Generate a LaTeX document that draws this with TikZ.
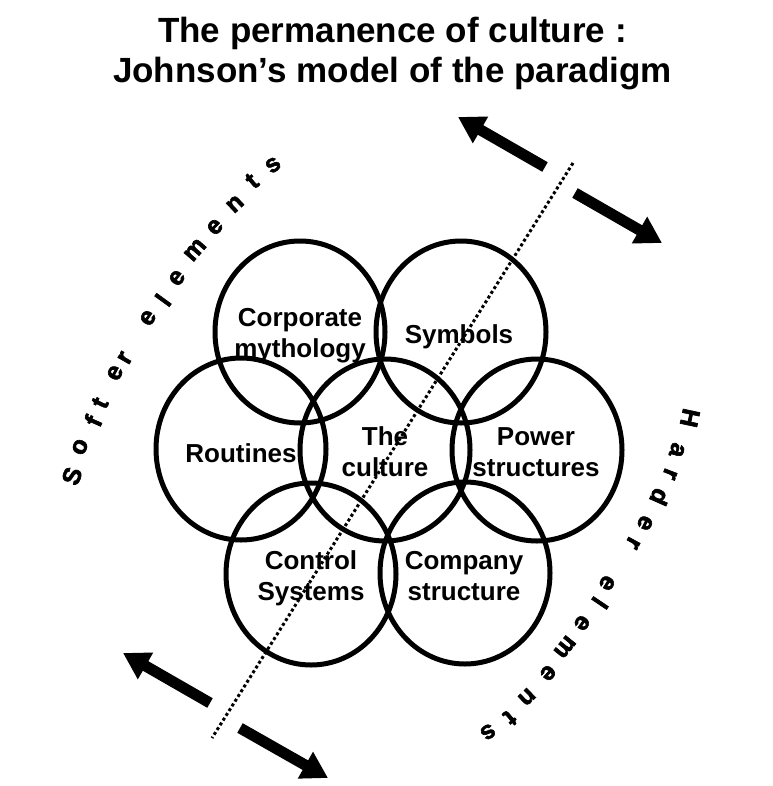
\documentclass[tikz,border=0pt]{standalone}
\usepackage{fontspec}
\setmainfont{Liberation Sans}
\newfontfamily\heavyfont[FakeBold=2.5]{Liberation Sans}
\usetikzlibrary{arrows.meta,shapes.geometric}
\begin{document}
\begin{tikzpicture}[x=1bp,y=-1bp,
  ring/.style={draw, ellipse, line width=5bp, minimum width=170bp, minimum height=182bp, inner sep=0pt},
  lbl/.style={font=\bfseries\fontsize{26bp}{30.5bp}\selectfont, align=center, anchor=base, inner sep=0pt},
  bigarrow/.style={line width=11bp, -{Triangle[length=26bp,width=29bp]}},
  divider/.style={line width=3bp, dash pattern=on 3bp off 2.6bp},
  titlefont/.style={font=\bfseries\fontsize{35bp}{39bp}\selectfont, align=center, anchor=base, inner sep=0pt},
  arcch/.style={font=\heavyfont\bfseries\fontsize{25bp}{25bp}\selectfont, inner sep=0pt, anchor=center}
]
\useasboundingbox (0,0) rectangle (773,786);

% title (base anchor = baseline of the last line)
\node[titlefont] (title) at (392.5,82) {The permanence of culture :\\Johnson’s model of the paradigm};

% circles
\node[ring] (cm) at (300,332) {};
\node[ring] (sy) at (461,332) {};
\node[ring] (ro) at (241,449) {};
\node[ring] (cu) at (385,450) {};
\node[ring] (po) at (537,450) {};
\node[ring] (cs) at (311,574) {};
\node[ring] (cp) at (465,573) {};

% labels (base anchor = baseline of the last line)
\node[lbl] (tcm) at (300,357) {Corporate\\mythology};
\node[lbl] (tsy) at (459,343) {Symbols};
\node[lbl] (tro) at (241,462) {Routines};
\node[lbl] (tcu) at (385,476) {The\\culture};
\node[lbl] (tpo) at (536,476) {Power\\structures};
\node[lbl] (tcs) at (311,600) {Control\\Systems};
\node[lbl] (tcp) at (464,600) {Company\\structure};

% dividing dotted line
\coordinate (dtop) at (573,163);
\coordinate (dbot) at (212,738);
\draw[divider] (dtop) -- (dbot);

% arrows
\coordinate (a1tail) at (545,167);
\coordinate (a1tip) at (458,117);
\coordinate (a2tail) at (575,193);
\coordinate (a2tip) at (662,243);
\coordinate (a3tail) at (210,703);
\coordinate (a3tip) at (123,653);
\coordinate (a4tail) at (240,728);
\coordinate (a4tip) at (328,778);
\draw[bigarrow] (a1tail) -- (a1tip);
\draw[bigarrow] (a2tail) -- (a2tip);
\draw[bigarrow] (a3tail) -- (a3tip);
\draw[bigarrow] (a4tail) -- (a4tip);

% curved texts, letter by letter
\foreach \c/\x/\y/\a [count=\i] in {S/72/476/70, o/80/447/68, f/93/421/66, t/100/403/64,
    e/115/373/62, r/125/358/60, e/148/318/56, l/163/300/54, e/177/278/52,
    m/195/250/49, e/215/227/46, n/235/204/43, t/252/181/40, s/273/165/37}
  \node[arcch, rotate=\a] (soft\i) at (\x,\y) {\c};
\foreach \c/\x/\y/\a [count=\i] in {H/690/418/-102, a/677/450/-107, r/670/474/-111, d/660/497/-114,
    e/645/523/-117, r/633/543/-119, e/607/583/-122, l/600/603/-124, e/582/623/-126,
    m/565/647/-129, e/548/673/-132, n/527/697/-136, t/510/718/-140, s/488/732/-145}
  \node[arcch, rotate=\a] (hard\i) at (\x,\y) {\c};
\end{tikzpicture}
\end{document}
